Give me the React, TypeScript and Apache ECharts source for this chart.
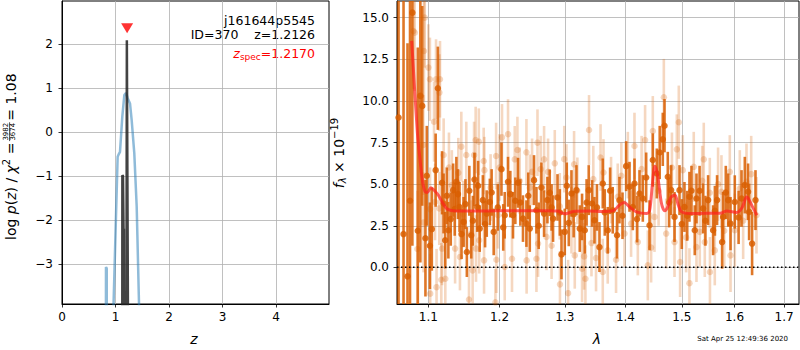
import React, { useEffect, useRef } from "react";
import * as echarts from "echarts";

// ---------- left panel: redshift PDF ----------
const zTicks = [0, 1, 2, 3, 4];
const logpTicks = [-3, -2, -1, 0, 1, 2];
const pzZ = [0.8, 0.818, 0.822, 0.836, 0.84, 0.95, 1.04, 1.062, 1.084, 1.127, 1.165, 1.196, 1.228, 1.271, 1.302, 1.351, 1.396, 1.45, 1.5];
const pzLogP = [-8, -8, -3.07, -3.1, -8, -4.5, -0.56, -0.5, -0.45, 0.35, 0.84, 0.89, 0.77, 0.65, 0.27, -0.48, -1.7, -4.45, -8];
const chiZ = [1.1, 1.125, 1.128, 1.14, 1.15, 1.156, 1.165, 1.2, 1.212, 1.245, 1.3];
const chiLogP = [-8, -8, -0.98, -1.0, -2.23, -2.2, -8, -8, 2.09, -8, -8];
const zSpec = 1.217;
const zSpecMarkY = 2.36;

// ---------- right panel: spectrum ----------
const lamTicks = [1.1, 1.2, 1.3, 1.4, 1.5, 1.6, 1.7];
const fluxTicks = [0, 2.5, 5, 7.5, 10, 12.5, 15];

const darkLam = [1.0605, 1.067, 1.0722, 1.0755, 1.0786, 1.0858, 1.0892, 1.0917, 1.096, 1.0978, 1.102, 1.1046, 1.1098, 1.1128, 1.1185, 1.1206, 1.1228, 1.1272, 1.1338, 1.1383, 1.1427, 1.1484, 1.153, 1.1592, 1.1638, 1.1677, 1.1713, 1.1758, 1.1814, 1.1859, 1.1915, 1.2029, 1.2077, 1.2126, 1.22, 1.2235, 1.2275, 1.235, 1.2402, 1.2453, 1.2518, 1.2555, 1.2632, 1.2673, 1.2725, 1.2761, 1.2813, 1.2883, 1.2946, 1.2998, 1.3062, 1.3105, 1.3185, 1.3239, 1.3276, 1.332, 1.3385, 1.344, 1.3479, 1.3562, 1.3617, 1.37, 1.3784, 1.3857, 1.3898, 1.4012, 1.407, 1.4127, 1.4156, 1.4243, 1.4301, 1.4419, 1.4477, 1.4548, 1.4655, 1.4686, 1.4745, 1.4805, 1.4867, 1.4958, 1.5049, 1.5141, 1.5179, 1.524, 1.5272, 1.5396, 1.5491, 1.5586, 1.5662, 1.5759, 1.5778, 1.5876, 1.5922, 1.6005, 1.6138, 1.6203, 1.6268, 1.6288, 1.6348, 1.6416,
  1.125, 1.1305, 1.136, 1.1405, 1.1455, 1.151, 1.1565, 1.1615, 1.169, 1.179, 1.1885, 1.1975, 1.2055, 1.216, 1.231, 1.243, 1.259, 1.279, 1.292, 1.303, 1.314, 1.335, 1.352, 1.365, 1.374, 1.395, 1.42, 1.436, 1.46, 1.477, 1.5, 1.51, 1.533, 1.544, 1.562, 1.583, 1.608];
const darkFlux = [9.0, 2.0, -0.54, 4.0, 15.3, 2.2, 10.3, 9.7, 1.75, 5.5, 1.3, 2.3, 5.84, 10.76, 5.08, 3.84, 1.63, 2.23, 4.64, 5.14, 3.63, 2.73, 0.92, 1.93, 5.28, 3.63, 2.33, 4.04, 3.23, 3.93, 2.13, 5.9, 3.13, 5.14, 3.13, 4.0, 5.08, 2.93, 2.63, 2.33, 5.24, 3.43, 4.8, 3.23, 4.04, 4.48, 2.93, 4.2, 0.78, 2.13, 2.67, 4.44, 4.64, 2.33, 3.03, 2.23, 4.64, 3.84, 2.83, 1.22, 5.04, 2.23, 3.43, 1.93, 4.04, 6.08, 4.84, 3.63, 5.04, 4.44, 4.14, 2.53, 6.45, 5.64, 7.69, 8.51, 5.44, 4.64, 3.03, 4.64, 3.63, 4.24, 4.6, 2.23, 4.14, 3.54, 4.04, 2.23, 4.04, 1.52, 3.03, 4.04, 2.63, 3.93, 4.14, 4.94, 4.54, 3.33, 1.43, 4.04,
  4.3, 2.9, 3.5, 4.4, 2.0, 3.8, 4.6, 2.8, 4.9, 2.6, 4.5, 3.6, 2.4, 4.4, 3.9, 4.3, 2.5, 3.6, 3.3, 4.9, 3.2, 3.9, 3.6, 3.3, 4.6, 3.1, 2.9, 5.4, 6.9, 3.9, 2.6, 3.1, 4.6, 2.8, 3.4, 4.5, 3.0];
const darkErr = [18, 16, 14, 15, 14, 11, 10, 6, 3.5, 3, 2.6, 2.5, 2.2, 2.5, 1.9, 1.8, 1.7, 1.7, 1.6, 1.5, 1.5, 1.5, 1.5, 1.4, 1.6, 1.5, 1.4, 1.5, 1.4, 1.4, 1.4, 1.6, 1.4, 1.5, 1.4, 1.4, 1.5, 1.4, 1.4, 1.4, 1.5, 1.4, 1.5, 1.4, 1.4, 1.4, 1.4, 1.4, 1.5, 1.4, 1.4, 1.4, 1.5, 1.4, 1.4, 1.4, 1.5, 1.4, 1.4, 1.5, 1.5, 1.4, 1.4, 1.4, 1.4, 1.5, 1.5, 1.4, 1.5, 1.4, 1.4, 1.5, 1.6, 1.5, 1.6, 1.6, 1.5, 1.5, 1.5, 1.5, 1.5, 1.5, 1.5, 1.5, 1.5, 1.5, 1.5, 1.5, 1.5, 1.6, 1.5, 1.6, 1.6, 1.6, 1.7, 1.7, 1.7, 1.7, 1.9, 1.8,
  1.7, 1.6, 1.6, 1.5, 1.5, 1.5, 1.5, 1.5, 1.5, 1.4, 1.4, 1.4, 1.4, 1.4, 1.4, 1.4, 1.4, 1.4, 1.4, 1.4, 1.4, 1.4, 1.4, 1.4, 1.4, 1.4, 1.4, 1.5, 1.6, 1.5, 1.5, 1.5, 1.5, 1.5, 1.5, 1.6, 1.6];

const lightLam = [1.08, 1.0817, 1.0853, 1.0932, 1.0935, 1.094, 1.095, 1.1, 1.102, 1.1022, 1.1024, 1.1076, 1.109, 1.1103, 1.111, 1.1147, 1.1149, 1.1157, 1.1175, 1.1185, 1.1207, 1.123, 1.132, 1.1365, 1.141, 1.1433, 1.1452, 1.1522, 1.156, 1.159, 1.1612, 1.1632, 1.1655, 1.166, 1.17, 1.1705, 1.177, 1.1775, 1.178, 1.194, 1.195, 1.1955, 1.1978, 1.2037, 1.2077, 1.2126, 1.2185, 1.2226, 1.2266, 1.2402, 1.2405, 1.2453, 1.2488, 1.2555, 1.2571, 1.258, 1.2673, 1.271, 1.2735, 1.284, 1.2919, 1.2922, 1.3025, 1.3051, 1.3105, 1.3147, 1.3158, 1.3276, 1.3309, 1.3331, 1.339, 1.343, 1.3505, 1.3617, 1.3629, 1.37, 1.3756, 1.384, 1.3869, 1.3984, 1.4041, 1.4097, 1.4156, 1.4214, 1.4341, 1.4389, 1.4447, 1.4477, 1.4507, 1.4674, 1.4716, 1.4867, 1.4909, 1.4945, 1.4969, 1.5018, 1.5141, 1.5221, 1.5272, 1.5334, 1.5409, 1.5428, 1.5523, 1.5526, 1.5618, 1.5681, 1.5746, 1.5908, 1.5922, 1.6005, 1.6104, 1.6236, 1.6436,
  1.128, 1.148, 1.187, 1.2, 1.23, 1.262, 1.279, 1.299, 1.32, 1.346, 1.358, 1.393, 1.428, 1.458, 1.482, 1.508, 1.538, 1.58, 1.617, 1.633];
const lightFlux = [14.2, 14.1, 1.1, 7.35, 2.7, 13.0, 15.0, 12.0, 11.3, 3.5, -1.58, 8.75, 3.93, 11.3, -1.19, 3.54, 10.5, 11.3, -0.74, 1.13, 6.75, -0.68, 4.94, 1.13, 5.68, 0.62, 7.25, 6.75, -1.93, 2.03, -0.18, 6.75, 7.65, 1.13, 7.55, 1.63, 6.39, 0.42, 5.84, -2.1, 6.69, 0.46, 3.13, 7.81, 0.02, 8.0, 0.52, 6.49, 7.05, 6.91, 0.42, 4.78, 5.74, 0.52, 7.49, 1.43, 6.49, 1.83, 5.74, 6.25, 3.67, -1.02, 5.4, -1.55, 2.83, 6.19, 0.72, -0.08, 0.66, -0.68, 8.25, 1.46, 0.56, -0.28, 5.7, 1.02, 4.64, 0.46, 4.24, 2.03, 6.14, 2.63, 7.29, 1.52, 7.65, 0.12, 1.19, 8.19, 3.03, 10.22, 2.03, 1.52, 7.09, 8.72, 0.32, 5.84, -0.95, 6.04, 1.22, 2.13, 6.49, 1.52, 4.48, -0.28, 1.02, 5.0, 4.54, 5.74, 0.72, 2.23, 4.74, 5.14, 3.13,
  6.0, 3.2, 4.8, 6.0, 5.2, 5.9, 1.3, 6.5, 4.6, 5.3, 6.6, 5.5, 5.9, 4.6, 6.0, 1.8, 5.2, 2.2, 2.8, 5.6];
const lightErr = [3.5, 3.5, 3.5, 3.0, 3.0, 3.0, 3.0, 2.6, 2.5, 2.5, 2.4, 2.4, 2.3, 2.4, 2.3, 2.2, 2.3, 2.3, 2.2, 2.2, 2.2, 2.1, 2.1, 2.1, 2.1, 2.0, 2.1, 2.0, 2.0, 2.0, 2.0, 2.0, 2.0, 2.0, 2.0, 2.0, 2.0, 2.0, 2.0, 2.0, 2.0, 2.0, 2.0, 2.0, 2.0, 2.1, 2.0, 2.0, 2.0, 2.0, 2.0, 2.0, 2.0, 2.0, 2.0, 2.0, 2.0, 2.0, 2.0, 2.0, 2.0, 2.0, 2.0, 2.0, 2.0, 2.0, 2.0, 2.0, 2.0, 2.0, 2.1, 2.0, 2.0, 2.0, 2.0, 2.0, 2.0, 2.0, 2.0, 2.0, 2.0, 2.0, 2.0, 2.0, 2.1, 2.1, 2.1, 2.1, 2.1, 2.3, 2.1, 2.1, 2.1, 2.2, 2.1, 2.1, 2.1, 2.1, 2.1, 2.1, 2.2, 2.1, 2.1, 2.1, 2.1, 2.2, 2.2, 2.2, 2.2, 2.2, 2.3, 2.3, 2.3,
  2.1, 2.0, 2.0, 2.0, 2.0, 2.0, 2.0, 2.0, 2.0, 2.0, 2.0, 2.0, 2.0, 2.1, 2.1, 2.1, 2.1, 2.2, 2.3, 2.3];

const modelLam = [1.0777, 1.0853, 1.0888, 1.092, 1.0955, 1.0985, 1.1034, 1.108, 1.1134, 1.119, 1.1249, 1.131, 1.1388, 1.16, 1.2, 1.24, 1.27, 1.2888, 1.2946, 1.3, 1.308, 1.3158, 1.34, 1.36, 1.379, 1.39, 1.3977, 1.408, 1.419, 1.4364, 1.442, 1.447, 1.4513, 1.456, 1.4632, 1.469, 1.474, 1.48, 1.4874, 1.493, 1.4995, 1.5156, 1.545, 1.5723, 1.5849, 1.6044, 1.615, 1.6242, 1.633, 1.6442];
const modelFlux = [13.6, 8.05, 6.45, 5.2, 4.54, 4.5, 4.78, 4.62, 4.34, 3.9, 3.53, 3.42, 3.39, 3.38, 3.4, 3.4, 3.4, 3.38, 3.27, 3.22, 3.3, 3.37, 3.38, 3.36, 3.4, 3.75, 3.9, 3.6, 3.33, 3.23, 3.4, 5.0, 6.08, 5.6, 3.84, 3.4, 3.6, 4.2, 4.34, 3.8, 3.33, 3.23, 3.25, 3.25, 3.39, 3.3, 3.6, 4.24, 3.8, 3.13];

const L_MIN = 1.0585;
const L_MAX = 1.7314;
const F_MIN = -2.2;
const F_MAX = 16;

const FONT = "DejaVu Sans";
const minus = (s: string) => s.replace("-", "\u2212");
const ORANGE = "#d95f02";

let measureCtx: CanvasRenderingContext2D | null = null;
function measure(text: string, font: string): number {
  if (!measureCtx) measureCtx = document.createElement("canvas").getContext("2d");
  if (!measureCtx) return text.length * 7;
  measureCtx.font = font;
  return measureCtx.measureText(text).width;
}

type Piece = { t: string; size: number; italic?: boolean; dy: number; color?: string };

// lay pieces out left-to-right from x0; returns elements and total width
function layout(pieces: Piece[], x0: number, y0: number, defColor: string) {
  let x = x0;
  const els: any[] = [];
  for (const p of pieces) {
    const font = `${p.italic ? "italic " : ""}${p.size}px "${FONT}"`;
    const w = measure(p.t, font);
    els.push({
      type: "text",
      x,
      y: y0 + p.dy,
      style: { text: p.t, font, fill: p.color || defColor, align: "left", verticalAlign: "middle" },
    });
    x += w;
  }
  return { els, width: x - x0 };
}

export default function App() {
  const ref = useRef<HTMLDivElement>(null);
  useEffect(() => {
    if (!ref.current) return;
    const chart = echarts.init(ref.current, null, { renderer: "svg" });
    const lg = (v: number) => Math.log10(v);

    const errSeries = (lam: number[], flux: number[], err: number[], opacity: number, width: number, z: number) => ({
      type: "custom",
      xAxisIndex: 1,
      yAxisIndex: 1,
      z,
      clip: true,
      silent: true,
      data: lam.map((l, i) => [lg(l), flux[i], err[i]]),
      renderItem: (params: any, api: any) => {
        const x = api.value(0);
        const y = api.value(1);
        const e = api.value(2);
        const lo = Math.max(y - e, F_MIN);
        const hi = Math.min(y + e, F_MAX);
        const p1 = api.coord([x, lo]);
        const p2 = api.coord([x, hi]);
        return {
          type: "line",
          shape: { x1: p1[0], y1: p1[1], x2: p2[0], y2: p2[1] },
          style: { stroke: ORANGE, lineWidth: width, opacity },
        };
      },
    });

    const axisCommon = {
      axisLine: { show: true, onZero: false, lineStyle: { color: "#000", width: 1 } },
      splitLine: { show: true, lineStyle: { color: "#b0b0b0", width: 0.8 } },
    };

    // z_spec label (right aligned at x=315)
    const zsPieces: Piece[] = [
      { t: "z", size: 12.5, italic: true, dy: 0 },
      { t: "spec", size: 9, dy: 3.5 },
      { t: "=1.2170", size: 12.5, dy: 0 },
    ];
    const zsW = layout(zsPieces, 0, 0, "#f00").width;
    const zsEls = layout(zsPieces, 315 - zsW, 53, "#ff0000").els;

    // left y label (rotated)
    const llPieces: Piece[] = [
      { t: "log ", size: 14, dy: 0 },
      { t: "p", size: 14, italic: true, dy: 0 },
      { t: "(", size: 14, dy: 0 },
      { t: "z", size: 14, italic: true, dy: 0 },
      { t: ") / ", size: 14, dy: 0 },
      { t: "χ", size: 14, italic: true, dy: 0 },
      { t: "2", size: 10, dy: -4.5 },
      { t: " =", size: 14, dy: 0 },
    ];
    const llMain = layout(llPieces, 0, 10.8, "#000");
    const fracW = measure("3982", `7px "${FONT}"`);
    const fracC = llMain.width + 2 + fracW / 2;
    const afterFrac = fracC + fracW / 2 + 2;
    const llEnd = layout([{ t: "= 1.08", size: 14, dy: 0 }], afterFrac, 10.8, "#000");

    // right y label (rotated)
    const rlPieces: Piece[] = [
      { t: "f", size: 14, italic: true, dy: 0 },
      { t: "λ", size: 10, italic: true, dy: 3.5 },
      { t: " × 10", size: 14, dy: 0 },
      { t: "−19", size: 10, dy: -4.5 },
    ];
    const rlW = layout(rlPieces, 0, 0, "#000").width;
    const rlEls = layout(rlPieces, -rlW / 2, 0, "#000").els;

    const option: any = {
      animation: false,
      textStyle: { fontFamily: FONT },
      grid: [
        { left: 62, top: 1, width: 267, height: 303, show: true, borderColor: "#000", borderWidth: 1, containLabel: false },
        { left: 397, top: 1, width: 402, height: 303, show: true, borderColor: "#000", borderWidth: 1, containLabel: false },
      ],
      xAxis: [
        {
          ...axisCommon,
          type: "value",
          gridIndex: 0,
          min: 0,
          max: 4.99,
          axisTick: { show: true, length: 3.5, customValues: zTicks, lineStyle: { color: "#000", width: 0.8 } },
          axisLabel: { customValues: zTicks, color: "#000", fontSize: 12, margin: 7, fontFamily: FONT, formatter: (v: number) => minus(String(v)) },
        },
        {
          ...axisCommon,
          type: "value",
          gridIndex: 1,
          min: lg(L_MIN),
          max: lg(L_MAX),
          axisTick: { show: true, length: 3.5, customValues: lamTicks.map(lg), lineStyle: { color: "#000", width: 0.8 } },
          axisLabel: { customValues: lamTicks.map(lg), color: "#000", fontSize: 12, margin: 7, fontFamily: FONT, formatter: (v: number) => Math.pow(10, v).toFixed(1) },
        },
      ],
      yAxis: [
        {
          ...axisCommon,
          type: "value",
          gridIndex: 0,
          min: -3.91,
          max: 2.98,
          axisTick: { show: true, length: 3.5, customValues: logpTicks, lineStyle: { color: "#000", width: 0.8 } },
          axisLabel: { customValues: logpTicks, color: "#000", fontSize: 12, margin: 9, fontFamily: FONT, formatter: (v: number) => minus(String(v)) },
        },
        {
          ...axisCommon,
          type: "value",
          gridIndex: 1,
          min: F_MIN,
          max: F_MAX,
          axisTick: { show: true, length: 3.5, customValues: fluxTicks, lineStyle: { color: "#000", width: 0.8 } },
          axisLabel: { customValues: fluxTicks, color: "#000", fontSize: 12, margin: 8, fontFamily: FONT, formatter: (v: number) => v.toFixed(1) },
        },
      ],
      series: [
        {
          type: "line",
          xAxisIndex: 0,
          yAxisIndex: 0,
          data: pzZ.map((z, i) => [z, pzLogP[i]]),
          showSymbol: false,
          clip: true,
          lineStyle: { color: "#1f77b4", width: 2.5, opacity: 0.5 },
          z: 2,
        },
        {
          type: "line",
          xAxisIndex: 0,
          yAxisIndex: 0,
          data: chiZ.map((z, i) => [z, chiLogP[i]]),
          showSymbol: false,
          clip: true,
          lineStyle: { color: "#222", width: 2.5, opacity: 0.85 },
          z: 3,
        },
        {
          type: "scatter",
          xAxisIndex: 0,
          yAxisIndex: 0,
          data: [[zSpec, zSpecMarkY]],
          symbol: "triangle",
          symbolRotate: 180,
          symbolSize: [12, 10],
          itemStyle: { color: "#ff0000" },
          z: 4,
        },
        errSeries(lightLam, lightFlux, lightErr, 0.25, 2.6, 2),
        {
          type: "scatter",
          xAxisIndex: 1,
          yAxisIndex: 1,
          data: lightLam.map((l, i) => [lg(l), lightFlux[i]]),
          symbol: "circle",
          symbolSize: 6.5,
          itemStyle: { color: ORANGE, opacity: 0.25 },
          z: 2,
        },
        errSeries(darkLam, darkFlux, darkErr, 0.85, 2.6, 3),
        {
          type: "scatter",
          xAxisIndex: 1,
          yAxisIndex: 1,
          data: darkLam.map((l, i) => [lg(l), darkFlux[i]]),
          symbol: "circle",
          symbolSize: 6.5,
          itemStyle: { color: ORANGE, opacity: 0.85 },
          z: 3,
        },
        {
          type: "line",
          xAxisIndex: 1,
          yAxisIndex: 1,
          data: modelLam.map((l, i) => [lg(l), modelFlux[i]]),
          showSymbol: false,
          smooth: 0.3,
          clip: true,
          lineStyle: { color: "#ff2020", width: 3, opacity: 0.7 },
          z: 4,
        },
        {
          type: "line",
          xAxisIndex: 1,
          yAxisIndex: 1,
          data: [[lg(L_MIN), 0], [lg(L_MAX), 0]],
          showSymbol: false,
          lineStyle: { color: "#000", width: 1.5, type: [1.5, 2.5] },
          z: 5,
        },
      ],
      graphic: [
        {
          type: "text",
          x: 315,
          y: 20,
          style: { text: "j161644p5545", fill: "#000", font: `12.5px "${FONT}"`, align: "right", verticalAlign: "middle" },
        },
        {
          type: "text",
          x: 315,
          y: 34,
          style: { text: "ID=370    z=1.2126", fill: "#000", font: `12.5px "${FONT}"`, align: "right", verticalAlign: "middle" },
        },
        ...zsEls,
        {
          type: "text",
          x: 194,
          y: 338.5,
          style: { text: "z", fill: "#000", font: `italic 14px "${FONT}"`, align: "center", verticalAlign: "middle" },
        },
        {
          type: "text",
          x: 597,
          y: 339,
          style: { text: "λ", fill: "#000", font: `italic 14px "${FONT}"`, align: "center", verticalAlign: "middle" },
        },
        {
          type: "text",
          x: 788,
          y: 339,
          style: { text: "Sat Apr 25 12:49:36 2020", fill: "#000", font: `7px "${FONT}"`, align: "right", verticalAlign: "middle" },
        },
        {
          type: "group",
          x: 339,
          y: 153,
          rotation: Math.PI / 2,
          children: rlEls,
        },
        {
          type: "group",
          x: 0,
          y: 240,
          rotation: Math.PI / 2,
          children: [
            ...llMain.els,
            {
              type: "text",
              x: fracC,
              y: 5.8,
              style: { text: "3982", fill: "#000", font: `7px "${FONT}"`, align: "center", verticalAlign: "middle" },
            },
            {
              type: "line",
              shape: { x1: fracC - fracW / 2 - 0.5, y1: 9.6, x2: fracC + fracW / 2 + 0.5, y2: 9.6 },
              style: { stroke: "#000", lineWidth: 0.7 },
            },
            {
              type: "text",
              x: fracC,
              y: 13.4,
              style: { text: "3674", fill: "#000", font: `7px "${FONT}"`, align: "center", verticalAlign: "middle" },
            },
            ...llEnd.els,
          ],
        },
      ],
    };
    chart.setOption(option);
    return () => chart.dispose();
  }, []);
  return <div ref={ref} style={{ width: 800, height: 350, position: "absolute", left: 0, top: 0 }} />;
}
